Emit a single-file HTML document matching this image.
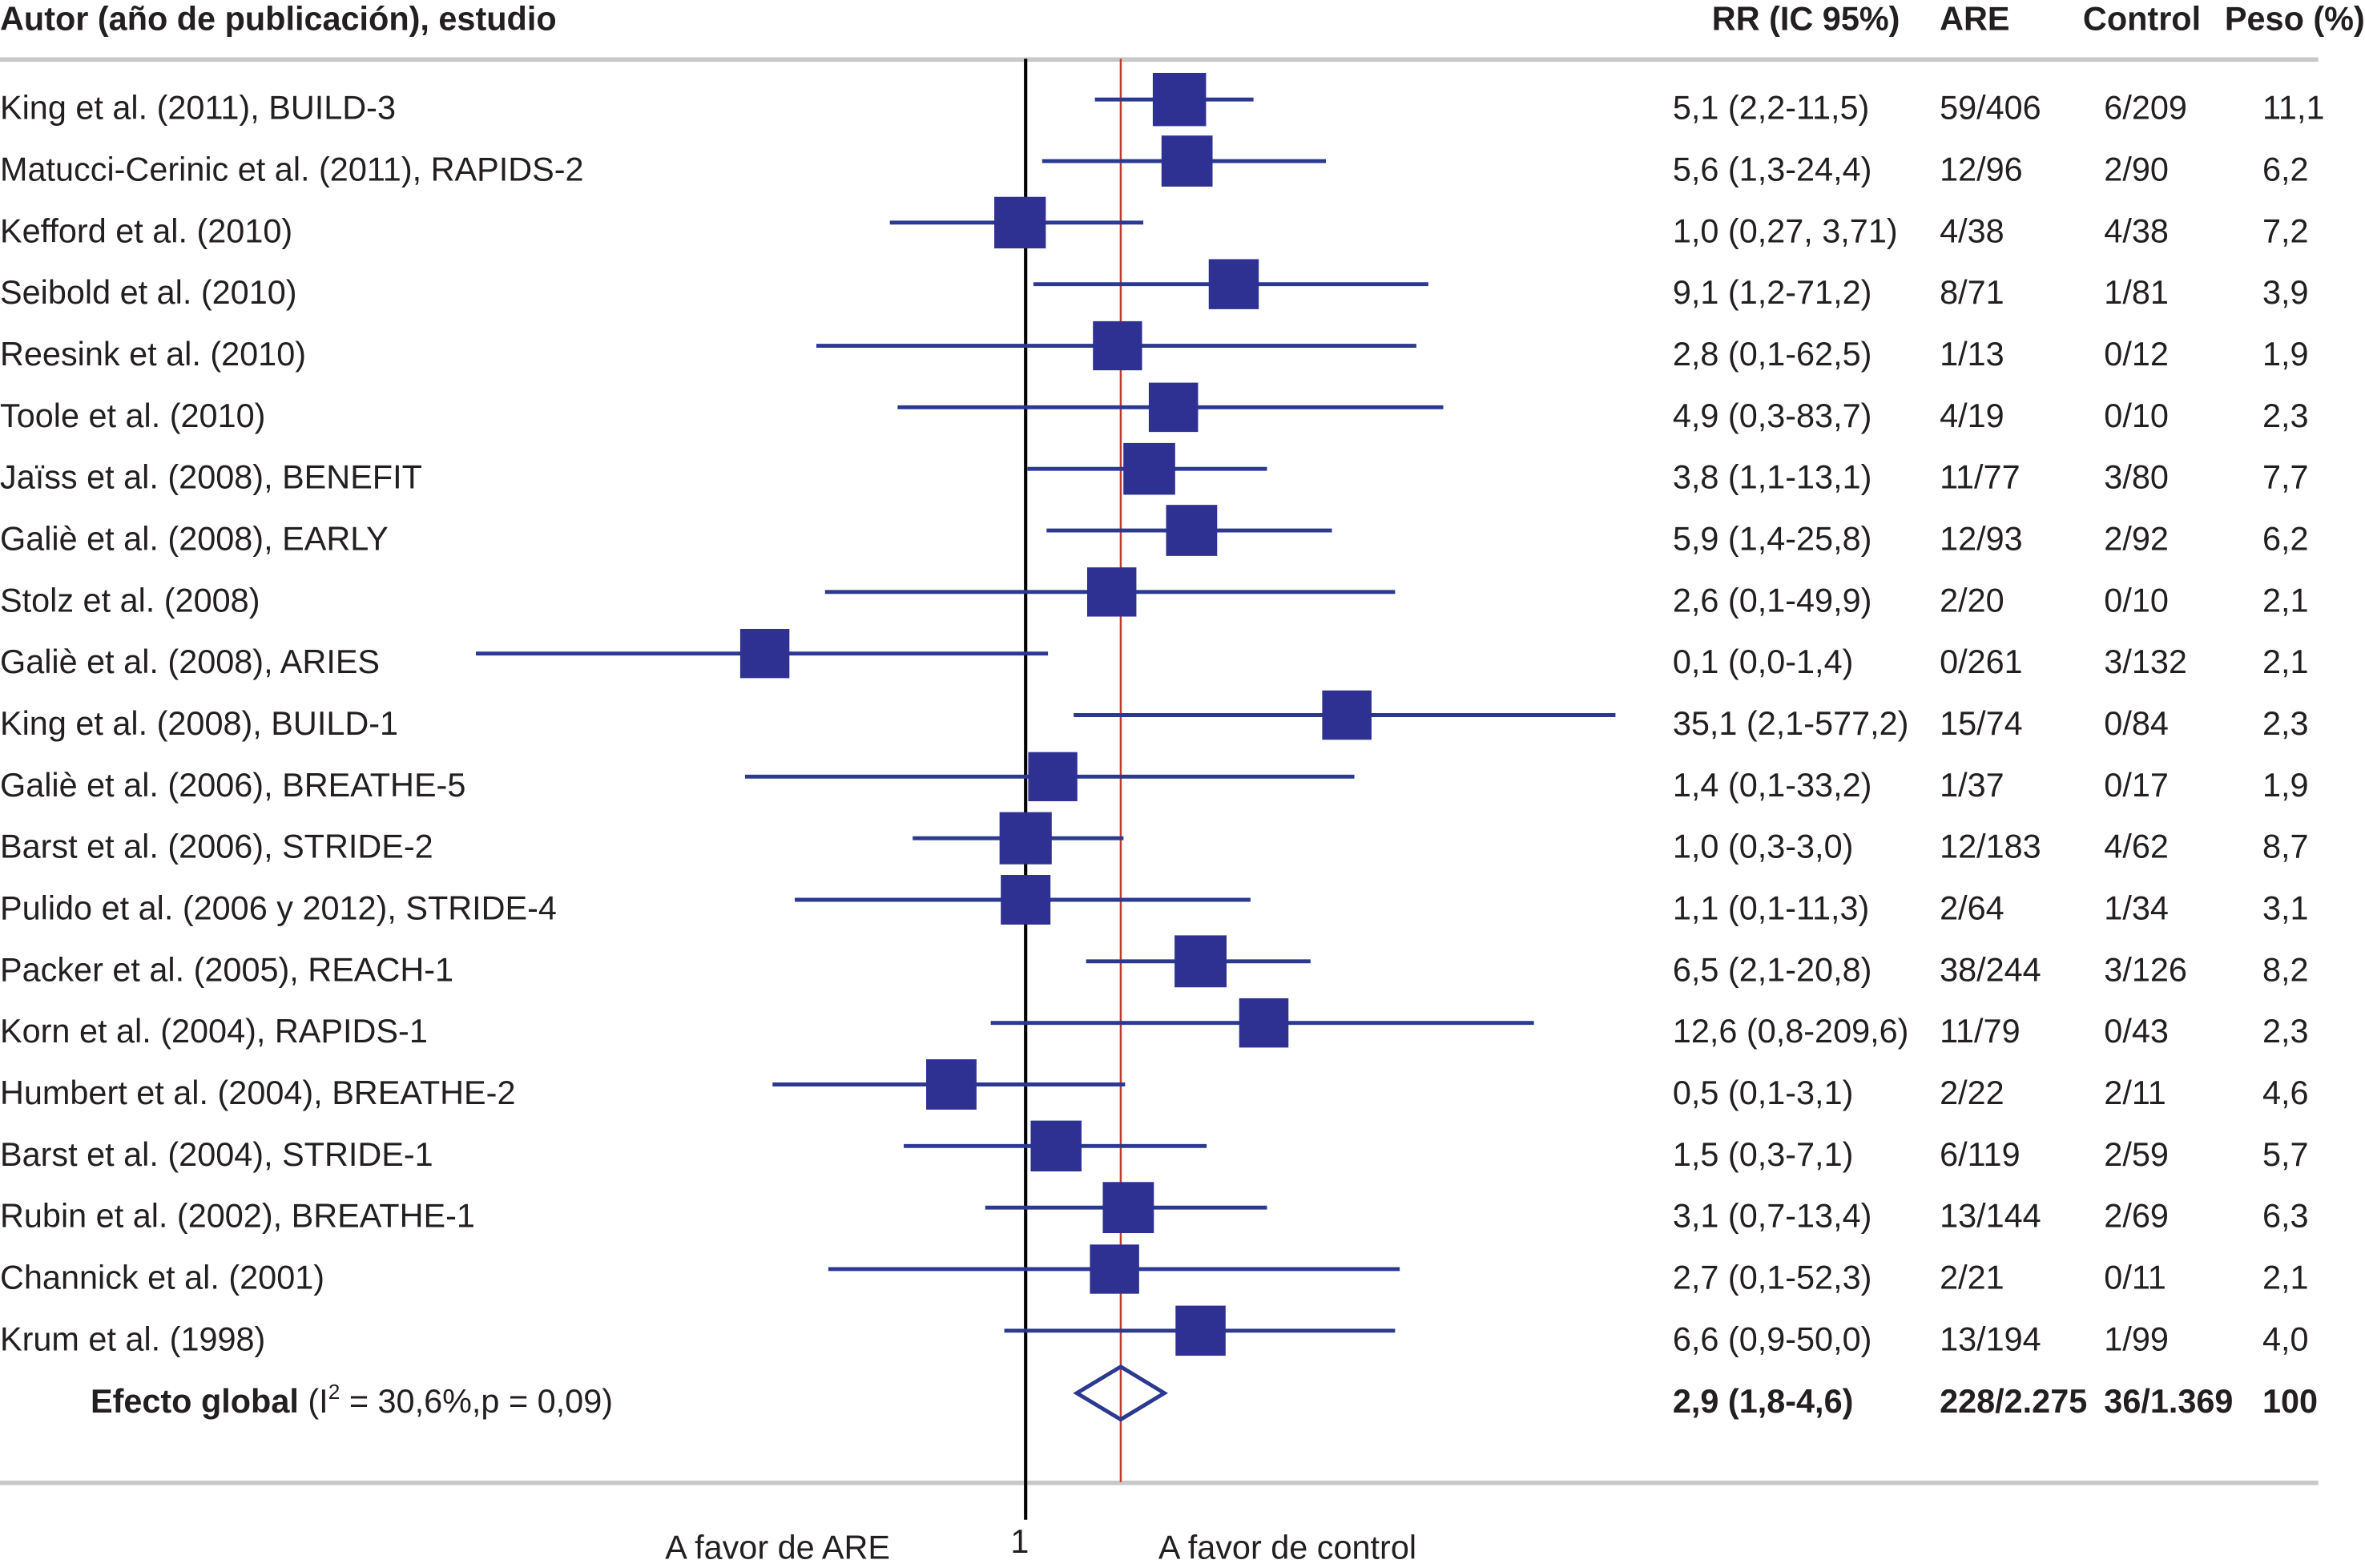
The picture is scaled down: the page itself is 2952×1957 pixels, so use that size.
<!DOCTYPE html>
<html><head><meta charset="utf-8"><style>
html,body{margin:0;padding:0;background:#fff;}
svg{display:block;font-family:"Liberation Sans",Arial,sans-serif;}
</style></head><body>
<svg id="chart" width="2952" height="1957" viewBox="0 0 1568 1040" preserveAspectRatio="none" xmlns="http://www.w3.org/2000/svg">
<g font-size="22" font-weight="bold" fill="#231f20">
<text x="0" y="20">Autor (año de publicación), estudio</text>
<text x="1135" y="20">RR (IC 95%)</text>
<text x="1286" y="20">ARE</text>
<text x="1381" y="20">Control</text>
<text x="1475" y="20">Peso (%)</text>
</g>
<rect x="0" y="38" width="1537" height="3" fill="#c8c8c8"/>
<rect x="0" y="982" width="1537" height="3" fill="#c8c8c8"/>
<g id="marks"></g>
<g id="texts" font-size="22" fill="#231f20"></g>
<g font-size="22" fill="#231f20">
<text x="441" y="1034">A favor de ARE</text>
<text x="670" y="1030">1</text>
<text x="768" y="1034">A favor de control</text>
</g>
</svg>
<script>
const studies = ["King et al. (2011), BUILD-3","Matucci-Cerinic et al. (2011), RAPIDS-2","Kefford et al. (2010)","Seibold et al. (2010)","Reesink et al. (2010)","Toole et al. (2010)","Jaïss et al. (2008), BENEFIT","Galiè et al. (2008), EARLY","Stolz et al. (2008)","Galiè et al. (2008), ARIES","King et al. (2008), BUILD-1","Galiè et al. (2006), BREATHE-5","Barst et al. (2006), STRIDE-2","Pulido et al. (2006 y 2012), STRIDE-4","Packer et al. (2005), REACH-1","Korn et al. (2004), RAPIDS-1","Humbert et al. (2004), BREATHE-2","Barst et al. (2004), STRIDE-1","Rubin et al. (2002), BREATHE-1","Channick et al. (2001)","Krum et al. (1998)"];
const rrText = ["5,1 (2,2-11,5)","5,6 (1,3-24,4)","1,0 (0,27, 3,71)","9,1 (1,2-71,2)","2,8 (0,1-62,5)","4,9 (0,3-83,7)","3,8 (1,1-13,1)","5,9 (1,4-25,8)","2,6 (0,1-49,9)","0,1 (0,0-1,4)","35,1 (2,1-577,2)","1,4 (0,1-33,2)","1,0 (0,3-3,0)","1,1 (0,1-11,3)","6,5 (2,1-20,8)","12,6 (0,8-209,6)","0,5 (0,1-3,1)","1,5 (0,3-7,1)","3,1 (0,7-13,4)","2,7 (0,1-52,3)","6,6 (0,9-50,0)"];
const areText = ["59/406","12/96","4/38","8/71","1/13","4/19","11/77","12/93","2/20","0/261","15/74","1/37","12/183","2/64","38/244","11/79","2/22","6/119","13/144","2/21","13/194"];
const controlText = ["6/209","2/90","4/38","1/81","0/12","0/10","3/80","2/92","0/10","3/132","0/84","0/17","4/62","1/34","3/126","0/43","2/11","2/59","2/69","0/11","1/99"];
const weights = [11.1,6.2,7.2,3.9,1.9,2.3,7.7,6.2,2.1,2.1,2.3,1.9,8.7,3.1,8.2,2.3,4.6,5.7,6.3,2.1,4.0];
const weightText = ["11,1","6,2","7,2","3,9","1,9","2,3","7,7","6,2","2,1","2,1","2,3","1,9","8,7","3,1","8,2","2,3","4,6","5,7","6,3","2,1","4,0"];
// plotted estimates
const rr = [5.47,5.95,0.94,9.97,2.76,5.12,3.92,6.26,2.59,0.056,34.8,1.35,1.0,1.0,6.91,13.9,0.44,1.40,3.11,2.67,6.91];
const lo = [2.15,1.20,0.223,1.09,0.099,0.243,1.02,1.26,0.109,0.0023,1.70,0.045,0.287,0.078,1.95,0.68,0.061,0.26,0.64,0.113,0.79];
const hi = [12.4,27.6,3.67,85.6,75.0,101,14.4,29.5,59.3,1.28,677,37.8,2.95,12.0,23.3,275,3.0,7.39,14.4,62.4,59.3];
const overall = [2.86,1.76,4.63];
const overallText = ["2,9 (1,8-4,6)","228/2.275","36/1.369","100"];

const NS="http://www.w3.org/2000/svg";
const X0=680, K=60;
function xs(v){return X0+K*Math.log(v);}
function rowBar(i){return 66+i*40.83;}
function rowText(i){return 79+i*40.83;}
const marks=document.getElementById('marks');
const texts=document.getElementById('texts');
function mk(tag,attrs,parent){const e=document.createElementNS(NS,tag);for(const k in attrs)e.setAttribute(k,attrs[k]);parent.appendChild(e);return e;}

let nl=mk('line',{x1:xs(1),x2:xs(1),y1:39,y2:1008,stroke:'#000','stroke-width':2.2},marks);


let ol=mk('line',{x1:xs(overall[0]),x2:xs(overall[0]),y1:39,y2:983,stroke:'#c0392b','stroke-width':1.3},marks);



for(let i=0;i<studies.length;i++){
  const y=rowBar(i);
  const ci=mk('line',{x1:xs(lo[i]),x2:xs(hi[i]),y1:y,y2:y,stroke:'#2b3990','stroke-width':2.6},marks);
  
  
  const s=32+weights[i]*0.3;
  const b=mk('rect',{x:xs(rr[i])-s/2,y:y-s/2,width:s,height:s,fill:'#2e3192'},marks);
  
  
  const ty=rowText(i);
  const cols=[[0,studies[i],'study-label'],[1109,rrText[i],'rr-value'],[1286,areText[i],'are-count'],[1395,controlText[i],'control-count'],[1500,weightText[i],'weight-value']];
  for(const c of cols){
    const t=mk('text',{x:c[0],y:ty},texts);
    t.textContent=c[1];
    
    
  }
}
const dy=924, dh=17.5;
const d=mk('polygon',{points:`${xs(overall[1])},${dy} ${xs(overall[0])},${dy-dh} ${xs(overall[2])},${dy} ${xs(overall[0])},${dy+dh}`,fill:'none',stroke:'#2b3990','stroke-width':2.6},marks);


const oy=937;
const og=mk('text',{x:60,y:oy},texts);


og.innerHTML='<tspan font-weight="bold">Efecto global</tspan> (I<tspan dy="-9" font-size="14">2</tspan><tspan dy="9"> = 30,6%,p = 0,09)</tspan>';
const ocols=[[1109,overallText[0],'overall-rr'],[1286,overallText[1],'overall-are'],[1395,overallText[2],'overall-control'],[1500,overallText[3],'overall-weight']];
for(const c of ocols){
  const t=mk('text',{x:c[0],y:oy,'font-weight':'bold'},texts);
  t.textContent=c[1];
  
  
}
</script>
</body></html>
